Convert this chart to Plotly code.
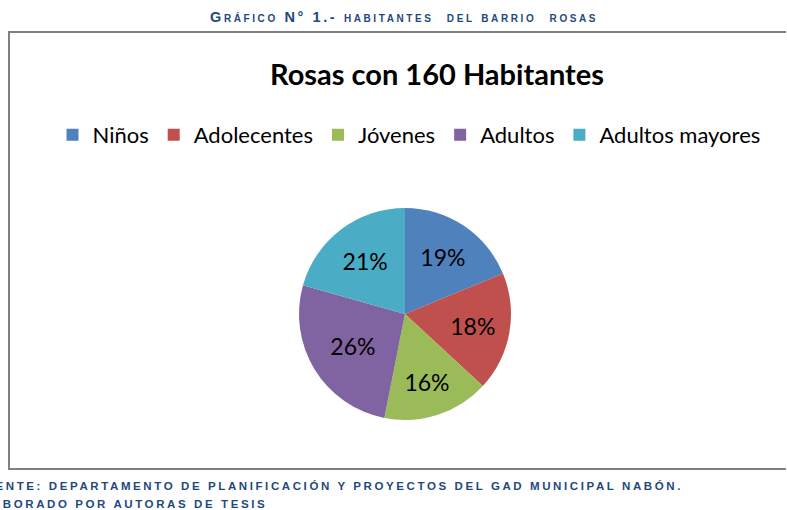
import plotly.graph_objects as go

categories = ["Niños", "Adolecentes", "Jóvenes", "Adultos", "Adultos mayores"]
habitantes = [30, 29, 26, 42, 33]
colors = ["#4F81BD", "#C0504D", "#9BBB59", "#8064A2", "#4BACC6"]

W, H = 787, 510
cx, cy, r = 405, 314, 106

fig = go.Figure(go.Pie(
    labels=categories,
    values=habitantes,
    marker=dict(colors=colors, line=dict(width=0)),
    sort=False,
    direction="clockwise",
    rotation=0,
    texttemplate="%{percent:.0%}",
    textposition="inside",
    insidetextorientation="horizontal",
    textfont=dict(family="Lato, Open Sans, sans-serif", size=23, color="black"),
    domain=dict(x=[(cx - r) / W, (cx + r) / W], y=[(H - cy - r) / H, (H - cy + r) / H]),
    hoverinfo="label+value+percent",
))

hdr_color = "#1F497D"
fig.update_layout(
    width=W, height=H,
    margin=dict(l=0, r=0, t=0, b=0),
    paper_bgcolor="white",
    showlegend=True,
    legend=dict(
        orientation="h", x=409 / W, xanchor="center", y=(H - 135) / H, yanchor="middle",
        font=dict(family="Lato, Open Sans, sans-serif", size=22, color="black"),
        itemwidth=30, tracegroupgap=0,
    ),
    shapes=[
        dict(type="line", xref="paper", yref="paper", x0=8 / W, x1=786 / W, y0=(H - 32) / H, y1=(H - 32) / H,
             line=dict(color="#808080", width=2)),
        dict(type="line", xref="paper", yref="paper", x0=9 / W, x1=9 / W, y0=(H - 32) / H, y1=(H - 469) / H,
             line=dict(color="#808080", width=2)),
        dict(type="line", xref="paper", yref="paper", x0=8 / W, x1=786 / W, y0=(H - 469) / H, y1=(H - 469) / H,
             line=dict(color="#808080", width=2)),
    ],
    annotations=[
        dict(text="<b>Rosas con 160 Habitantes</b>", xref="paper", yref="paper",
             x=437 / W, y=(H - 73) / H, xanchor="center", yanchor="middle", showarrow=False,
             font=dict(family="Lato, Open Sans, sans-serif", size=29, color="black")),
        dict(text="<b><span style='letter-spacing:2.6px'>Gráfico N° 1.- habitantes  del barrio  rosas</span></b>",
             xref="paper", yref="paper",
             x=404 / W, y=(H - 17) / H, xanchor="center", yanchor="middle", showarrow=False,
             font=dict(family="Liberation Sans, Arial, sans-serif", size=14.5, color=hdr_color, variant="small-caps")),
        dict(text="<b><span style='letter-spacing:2.6px'>FUENTE: DEPARTAMENTO DE PLANIFICACIÓN Y PROYECTOS DEL GAD MUNICIPAL NABÓN.</span></b>",
             xref="paper", yref="paper", x=685 / W, y=(H - 486) / H, xanchor="right", yanchor="middle",
             showarrow=False, font=dict(family="Liberation Sans, Arial, sans-serif", size=11.5, color=hdr_color)),
        dict(text="<b><span style='letter-spacing:2.6px'>ELABORADO POR AUTORAS DE TESIS</span></b>",
             xref="paper", yref="paper", x=269 / W, y=(H - 504) / H, xanchor="right", yanchor="middle",
             showarrow=False, font=dict(family="Liberation Sans, Arial, sans-serif", size=11.5, color=hdr_color)),
    ],
)

fig.write_html("out.html", config={"displayModeBar": False},
               post_script="document.body.style.margin='0';document.body.style.overflow='hidden';")
